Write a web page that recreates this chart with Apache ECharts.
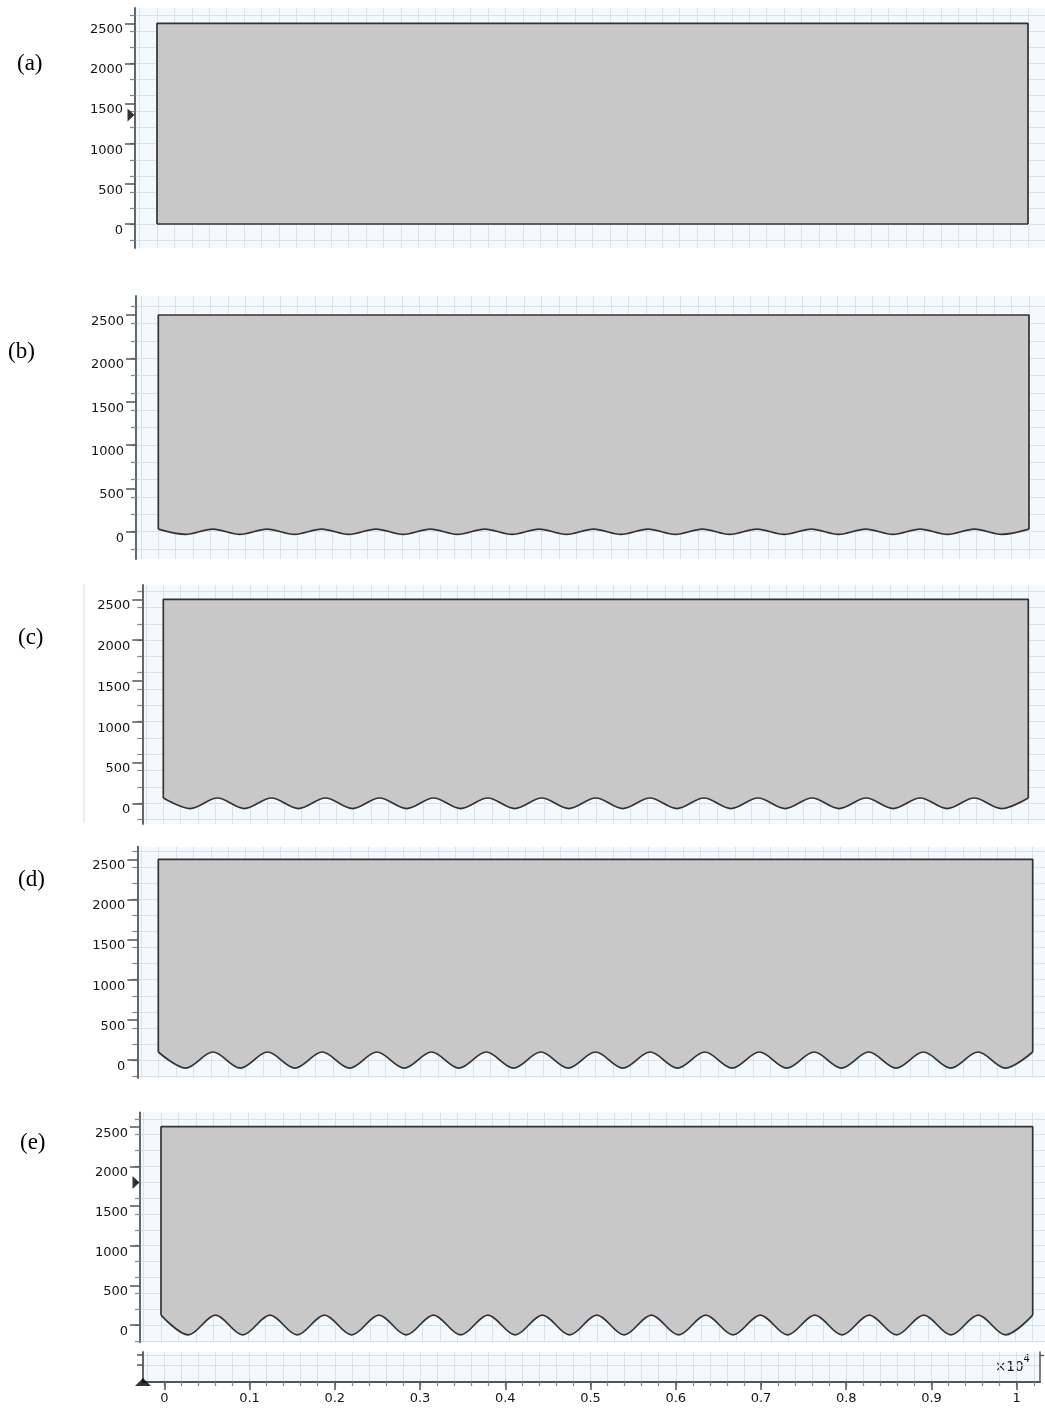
<!DOCTYPE html>
<html><head><meta charset="utf-8">
<script src="https://cdn.jsdelivr.net/npm/echarts@6/dist/echarts.min.js"></script>
<style>html,body{margin:0;padding:0;background:#fff}#c{width:1045px;height:1412px}</style>
</head><body><div id="c"></div>
<script>
// ---------- data ----------
const panelNames = ['(a)', '(b)', '(c)', '(d)', '(e)'];
const domainLeft = 0;
const domainRight = 10000;
const domainTop = 2500;
// x positions of crests and troughs of the bottom boundary (16 periods)
const waveX = [0, 312.5, 625, 937.5, 1250, 1562.5, 1875, 2187.5, 2500, 2812.5, 3125, 3437.5, 3750, 4062.5, 4375, 4687.5, 5000,
  5312.5, 5625, 5937.5, 6250, 6562.5, 6875, 7187.5, 7500, 7812.5, 8125, 8437.5, 8750, 9062.5, 9375, 9687.5, 10000];
const waveA = [0,0,0,0,0,0,0,0,0,0,0,0,0,0,0,0,0,0,0,0,0,0,0,0,0,0,0,0,0,0,0,0,0];
const waveB = [30,-30,30,-30,30,-30,30,-30,30,-30,30,-30,30,-30,30,-30,30,-30,30,-30,30,-30,30,-30,30,-30,30,-30,30,-30,30,-30,30];
const waveC = [65,-65,65,-65,65,-65,65,-65,65,-65,65,-65,65,-65,65,-65,65,-65,65,-65,65,-65,65,-65,65,-65,65,-65,65,-65,65,-65,65];
const waveD = [100,-100,100,-100,100,-100,100,-100,100,-100,100,-100,100,-100,100,-100,100,-100,100,-100,100,-100,100,-100,100,-100,100,-100,100,-100,100,-100,100];
const waveE = [125,-125,125,-125,125,-125,125,-125,125,-125,125,-125,125,-125,125,-125,125,-125,125,-125,125,-125,125,-125,125,-125,125,-125,125,-125,125,-125,125];
const waves = [waveA, waveB, waveC, waveD, waveE];
const yTickValues = [0, 500, 1000, 1500, 2000, 2500];
const yTickLabels = ['0', '500', '1000', '1500', '2000', '2500'];
const xTickValues = [0, 1000, 2000, 3000, 4000, 5000, 6000, 7000, 8000, 9000, 10000];
const xTickLabels = ['0', '0.1', '0.2', '0.3', '0.4', '0.5', '0.6', '0.7', '0.8', '0.9', '1'];
const markerValues = [1357, null, null, null, 1795];

// ---------- layout / style ----------
const layouts = [
  {left: 135,   top: 8,     height: 240,   xMin: -252.6, xMax: 10195,  yMin: -299,   yMax: 2690.6, lx: 17, ly: 52},
  {left: 136,   top: 296,   height: 263,   xMin: -256.1, xMax: 10184,  yMin: -315,   yMax: 2719,   lx: 8,  ly: 340},
  {left: 142.3, top: 585,   height: 239,   xMin: -242.8, xMax: 10193,  yMin: -253.7, yMax: 2675,   lx: 18, ly: 626},
  {left: 137.3, top: 846.7, height: 231.3, xMin: -240.2, xMax: 10140.6,yMin: -224,   yMax: 2657,   lx: 18, ly: 868},
  {left: 140,   top: 1112.3,height: 230,   xMin: -240.9, xMax: 10141,  yMin: -218,   yMax: 2681.5, lx: 20, ly: 1131}
];
const strip = {left: 143, top: 1352, width: 897, height: 30, xMin: -250, xMax: 10273};
const bgColor = '#f4f9fe';
const gridColor = '#d6e2ee';
const axisColor = '#555555';
const outline = '#333333';
const fill = '#c8c8c8';
const labelFont = {fontFamily: 'DejaVu Sans', fontSize: 13, color: '#151515'};
function steps(from, to, step) { const r = []; for (let v = from; v <= to + 1e-9; v += step) r.push(v); return r; }
const xGrid = steps(-400, 10400, 200);
const yGrid = steps(-400, 2800, 200);

const grid = [], xAxis = [], yAxis = [], series = [], graphic = [];
layouts.forEach((L, i) => {
  grid.push({left: L.left, top: L.top, right: 0, height: L.height, show: true, backgroundColor: bgColor, borderWidth: 0, outerBoundsMode: 'none'});
  xAxis.push({gridIndex: i, type: 'value', min: L.xMin, max: L.xMax, position: 'bottom',
    axisLine: {show: false, onZero: false},
    axisTick: {show: false, customValues: xGrid},
    axisLabel: {show: false},
    splitLine: {show: true, lineStyle: {color: gridColor, width: 1}}});
  yAxis.push({gridIndex: i, type: 'value', min: L.yMin, max: L.yMax, position: 'left',
    axisLine: {show: true, onZero: false, lineStyle: {color: axisColor, width: 1.8}},
    axisTick: {show: true, customValues: yGrid, length: 5, lineStyle: {color: '#8a8a8a', width: 1.3}},
    axisLabel: {show: false},
    splitLine: {show: true, lineStyle: {color: gridColor, width: 1}}});
  yAxis.push({gridIndex: i, type: 'value', min: L.yMin, max: L.yMax, position: 'left',
    axisLine: {show: false, onZero: false},
    axisTick: {show: true, customValues: yTickValues, length: 10, lineStyle: {color: axisColor, width: 1.5}},
    axisLabel: Object.assign({show: true, customValues: yTickValues, margin: 12, verticalAlign: 'top',
      formatter: v => yTickLabels[yTickValues.indexOf(v)]}, labelFont),
    splitLine: {show: false}});
  const w = waves[i];
  series.push({type: 'line', xAxisIndex: i, yAxisIndex: 2 * i, data: waveX.map((x, k) => [x, w[k]]),
    smooth: 0.33, showSymbol: false, silent: true, animation: false, z: 3,
    lineStyle: {color: outline, width: 1.7},
    areaStyle: {color: fill, opacity: 1, origin: domainTop}});
  series.push({type: 'line', xAxisIndex: i, yAxisIndex: 2 * i,
    data: [[domainLeft, w[0]], [domainLeft, domainTop], [domainRight, domainTop], [domainRight, w[w.length - 1]]],
    showSymbol: false, silent: true, animation: false, z: 4,
    lineStyle: {color: outline, width: 1.7}});
  if (markerValues[i] !== null) {
    series.push({type: 'scatter', xAxisIndex: i, yAxisIndex: 2 * i, data: [[L.xMin, markerValues[i]]],
      symbol: 'triangle', symbolRotate: -90, symbolSize: [13, 7], symbolOffset: [-4, 0],
      clip: false, silent: true, animation: false, z: 6, itemStyle: {color: '#000'}});
  }
  graphic.push({type: 'text', left: L.lx, top: L.ly,
    style: {text: panelNames[i], font: '23px "Liberation Serif"', fill: '#000'}});
});

// bottom strip with the shared x axis
const si = layouts.length;
grid.push({left: strip.left, top: strip.top, width: strip.width, height: strip.height, show: true, backgroundColor: bgColor, borderWidth: 0, outerBoundsMode: 'none'});
xAxis.push({gridIndex: si, type: 'value', min: strip.xMin, max: strip.xMax, position: 'bottom',
  axisLine: {show: true, onZero: false, lineStyle: {color: axisColor, width: 1.8}},
  axisTick: {show: true, customValues: xGrid, length: 4, lineStyle: {color: '#8a8a8a', width: 1.3}},
  axisLabel: {show: false},
  splitLine: {show: true, lineStyle: {color: gridColor, width: 1}}});
xAxis.push({gridIndex: si, type: 'value', min: strip.xMin, max: strip.xMax, position: 'bottom',
  axisLine: {show: false, onZero: false},
  axisTick: {show: true, customValues: xTickValues, length: 8, lineStyle: {color: axisColor, width: 1.5}},
  axisLabel: Object.assign({show: true, customValues: xTickValues, margin: 10,
    formatter: v => xTickLabels[xTickValues.indexOf(v)]}, labelFont),
  splitLine: {show: false}});
yAxis.push({gridIndex: si, type: 'value', min: 0, max: 30, position: 'left',
  axisLine: {show: true, onZero: false, lineStyle: {color: axisColor, width: 1.8}},
  axisTick: {show: true, customValues: [17, 27], length: 6, lineStyle: {color: axisColor, width: 1.5}},
  axisLabel: {show: false},
  splitLine: {show: true, lineStyle: {color: gridColor, width: 1}}});
yAxis.push({gridIndex: si, type: 'value', min: 0, max: 30, position: 'right',
  axisLine: {show: true, onZero: false, lineStyle: {color: axisColor, width: 1.5}},
  axisTick: {show: true, customValues: [27], length: 4, lineStyle: {color: axisColor, width: 1.3}},
  axisLabel: {show: false},
  splitLine: {show: false}});
series.push({type: 'scatter', xAxisIndex: xAxis.length - 2, yAxisIndex: yAxis.length - 2, data: [[strip.xMin, 0]],
  symbol: 'triangle', symbolSize: [16, 8], clip: false, silent: true, animation: false, z: 6, itemStyle: {color: '#000'}});

graphic.push({type: 'text', left: 995, top: 1354,
  style: {text: '{a|×10}{b|4}', rich: {
    a: {fontFamily: 'DejaVu Sans', fontSize: 13.5, fill: '#151515', verticalAlign: 'bottom', lineHeight: 20},
    b: {fontFamily: 'DejaVu Sans', fontSize: 10, fill: '#151515', verticalAlign: 'top', lineHeight: 20}}}});
graphic.push({type: 'line', shape: {x1: 84, y1: 584, x2: 84, y2: 823}, style: {stroke: '#dcdcdc', lineWidth: 1}});

const chart = echarts.init(document.getElementById('c'), null, {renderer: 'canvas'});
chart.setOption({animation: false, backgroundColor: '#fff', grid, xAxis, yAxis, series, graphic});
</script></body></html>
